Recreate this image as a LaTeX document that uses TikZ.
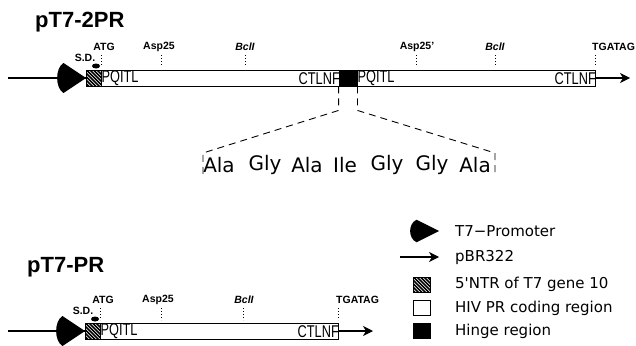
\documentclass[tikz,border=0pt]{standalone}
\usepackage{fontspec}
\setmainfont{Liberation Sans}
\newfontfamily\legfont{DejaVu Sans}
\usetikzlibrary{arrows.meta}
\newcommand\hatchsq[4]{%
  \begin{scope}
    \clip (#1,#2) rectangle (#3,#4);
    \foreach \i in {-24,-20.5,...,24} \draw[line width=1.5pt] (#1+\i,#2) -- ++(22,22);
  \end{scope}
  \draw[line width=0.9pt] (#1,#2) rectangle (#3,#4);}
\begin{document}
\begin{tikzpicture}[x=1pt,y=-1pt,
  title/.style={font=\bfseries\fontsize{22}{22}\selectfont, inner sep=0pt, anchor=base west},
  lbl/.style={font=\bfseries\fontsize{10.5}{10.5}\selectfont, inner sep=0pt},
  code/.style={font=\fontsize{17}{17}\selectfont, inner sep=0pt},
  aa/.style={font=\legfont\fontsize{20}{20}\selectfont, inner sep=0pt},
  leg/.style={font=\legfont\fontsize{15}{15}\selectfont, anchor=west, inner sep=0pt},
  tickln/.style={dotted, line width=1pt},
  orf/.style={draw, line width=0.9pt, inner sep=0pt, minimum height=16pt, anchor=west},
  mainln/.style={line width=1.1pt},
  arr/.style={line width=1.1pt, -{Stealth[length=10pt,width=10pt,inset=3pt]}},
  hdash/.style={line width=0.9pt, dash pattern=on 7pt off 5pt},
  promoter/.pic={\fill (14.5,0) -- (-8,-15) .. controls (-16.5,-10) and (-16.5,10) .. (-8,15) -- cycle;}]
\useasboundingbox (0,0) rectangle (636,345);

% ---------- pT7-2PR ----------
\node[title] (t1) at (35,28) {pT7-2PR};
\coordinate (s1) at (8,78);
\coordinate (e1) at (630,78);
\node[orf, minimum width=509pt] (box1) at (86,78) {};
\draw[mainln] (s1) -- (box1.west);
\draw[arr] (box1.east) -- (e1);
\pic at (71.5,78) {promoter};
\hatchsq{86}{70}{101}{86}
\node[fill=black, draw, line width=0.9pt, minimum width=18pt, minimum height=16pt, inner sep=0pt] (hinge) at (348,78) {};
\node[code, anchor=west] (p1) at (101.5,78.5) {\scalebox{0.75}[1]{PQITL}};
\node[code, anchor=east] (c1) at (340,78.5) {\scalebox{0.75}[1]{CTLNF}};
\node[code, anchor=west] (p2) at (357.5,78.5) {\scalebox{0.75}[1]{PQITL}};
\node[code, anchor=east] (c2) at (596,78.5) {\scalebox{0.75}[1]{CTLNF}};

\node[lbl] (atg1) at (104,47) {ATG};
\node[lbl] (sd1) at (85,58) {S.D.};
\fill (96,66) ellipse (4pt and 2.5pt);
\node[lbl] (asp1) at (159,47) {Asp25};
\node[lbl] (bcl1) at (245,47) {\itshape BclI};
\node[lbl] (asp2) at (417,47) {Asp25'};
\node[lbl] (bcl2) at (495,47) {\itshape BclI};
\node[lbl, anchor=west] (stop1) at (592,47) {TGATAG};
\foreach \x in {101,161,245,416,495,595} \draw[tickln] (\x,55) -- (\x,67);

% hinge expansion
\coordinate (dl) at (203,153);
\coordinate (dr) at (495,153);
\draw[hdash] (hinge.south west) -- ++(0,24) -- (dl) -- ++(0,22);
\draw[hdash] (hinge.south east) -- ++(0,24) -- (dr) -- ++(0,22);
\node[aa] (w1) at (219,165) {Ala};
\node[aa] (w2) at (265,165) {Gly};
\node[aa] (w3) at (307,165) {Ala};
\node[aa] (w4) at (345,165) {Ile};
\node[aa] (w5) at (387,165) {Gly};
\node[aa] (w6) at (432,165) {Gly};
\node[aa] (w7) at (475,165) {Ala};

% ---------- pT7-PR ----------
\node[title] (t2) at (27,272) {pT7-PR};
\coordinate (s2) at (8,331);
\coordinate (e2) at (373,331);
\node[orf, minimum width=253pt] (box2) at (85,331) {};
\draw[mainln] (s2) -- (box2.west);
\draw[arr] (box2.east) -- (e2);
\pic at (70.5,331) {promoter};
\hatchsq{85}{323}{100}{339}
\node[code, anchor=west] (p3) at (100.5,331.5) {\scalebox{0.75}[1]{PQITL}};
\node[code, anchor=east] (c3) at (339,331.5) {\scalebox{0.75}[1]{CTLNF}};

\node[lbl] (atg2) at (103,300) {ATG};
\node[lbl] (sd2) at (83,311) {S.D.};
\fill (95,319) ellipse (4pt and 2.5pt);
\node[lbl] (asp3) at (158,300) {Asp25};
\node[lbl] (bcl3) at (244,300) {\itshape BclI};
\node[lbl, anchor=west] (stop2) at (336,300) {TGATAG};
\foreach \x in {100,161,243,338} \draw[tickln] (\x,308) -- (\x,320);

% ---------- legend ----------
\pic[yscale=0.75] at (424.5,231) {promoter};
\node[leg] (l1) at (455,231) {T7−Promoter};
\coordinate (la) at (400,257);
\coordinate (lb) at (439,257);
\draw[arr] (la) -- (lb);
\node[leg] (l2) at (455,257) {pBR322};
\hatchsq{413}{277}{430}{292}
\node[leg] (l3) at (455,284) {5'NTR of T7 gene 10};
\node[draw, line width=0.9pt, minimum width=17pt, minimum height=15pt, inner sep=0pt] (ws) at (421.5,307.5) {};
\node[leg] (l4) at (455,308) {HIV PR coding region};
\node[fill=black, draw, minimum width=17pt, minimum height=15pt, inner sep=0pt] (bs) at (421.5,330.5) {};
\node[leg] (l5) at (455,331) {Hinge region};
\end{tikzpicture}
\end{document}
